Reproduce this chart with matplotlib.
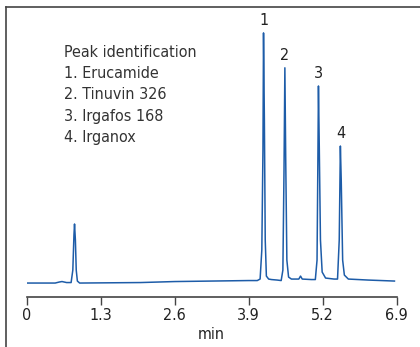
import matplotlib
matplotlib.use("Agg")
from matplotlib import pyplot as plt
from matplotlib.lines import Line2D

# chromatogram trace (time in min, signal in arbitrary units)
time_min = [0.00, 0.50, 0.57, 0.62, 0.70, 0.78, 0.81, 0.83, 0.84, 0.855, 0.87, 0.89, 0.93,
            2.00, 2.60, 3.90, 4.05, 4.10, 4.13, 4.15, 4.16, 4.175, 4.19, 4.21, 4.25, 4.30,
            4.40, 4.47, 4.50, 4.52, 4.535, 4.55, 4.57, 4.60, 4.65, 4.78, 4.81, 4.84, 5.00,
            5.07, 5.10, 5.115, 5.125, 5.14, 5.16, 5.19, 5.25, 5.40, 5.46, 5.49, 5.51, 5.525,
            5.55, 5.58, 5.65, 6.00, 6.46]
signal = [-0.4, -0.4, 0.0, 0.2, -0.2, -0.2, 4.8, 18.9, 23.3, 16.9, 4.8, 0.4, -0.4,
          -0.2, 0.2, 0.6, 0.6, 1.2, 12.9, 53.0, 100.0, 65.0, 16.9, 2.4, 1.2, 1.0,
          0.8, 0.6, 4.8, 45.0, 86.0, 49.0, 8.8, 2.0, 1.2, 1.2, 2.4, 1.2, 1.0,
          1.0, 8.8, 49.0, 78.7, 53.0, 16.9, 4.0, 1.6, 1.2, 1.2, 16.9, 54.6, 41.0,
          8.8, 2.8, 1.2, 0.8, 0.4]

peak_labels = ["1", "2", "3", "4"]
peak_times = [4.16, 4.535, 5.125, 5.51]
peak_heights = [100.0, 86.0, 78.7, 54.6]

legend_lines = ["Peak identification", "1. Erucamide", "2. Tinuvin 326",
                "3. Irgafos 168", "4. Irganox"]

tick_pos = [0, 1.3, 2.6, 3.9, 5.2, 6.5]
tick_labels = ["0", "1.3", "2.6", "3.9", "5.2", "6.9"]

plt.rcParams["font.family"] = ["DejaVu Sans"]
plt.rcParams["font.stretch"] = "condensed"
gray = "#444444"
blue = "#1d5ca8"

fig = plt.figure(figsize=(4.2, 3.47), dpi=100)
ax = fig.add_axes([0.0636, 0.1441, 0.881, 0.8357])
ax.plot(time_min, signal, color=blue, lw=1.1)

for lab, t, h in zip(peak_labels, peak_times, peak_heights):
    ax.text(t, h + 2.0, lab, ha="center", va="bottom", fontsize=11.5, color="#222222")

for i, line in enumerate(legend_lines):
    ax.text(0.65, 92 - i * 8.45, line, ha="left", va="center", fontsize=11.5, color="#333333")

ax.set_xlim(0, 6.5)
ax.set_ylim(-6.0, 110.4)
ax.set_xticks(tick_pos)
ax.set_xticklabels(tick_labels)
ax.set_yticks([])
ax.set_xlabel("min", fontsize=11.5, color="#222222", labelpad=3)
ax.tick_params(axis="x", length=6, width=1, color=gray, labelsize=11.5,
               labelcolor="#222222", pad=2)
for side in ["left", "right", "top"]:
    ax.spines[side].set_visible(False)
ax.spines["bottom"].set_color(gray)
ax.spines["bottom"].set_linewidth(1.2)
ax.patch.set_alpha(0)

# panel border (left and top edges)
fig.add_artist(Line2D([6 / 420, 6 / 420], [0, 1 - 7 / 347], color=gray, lw=1.2))
fig.add_artist(Line2D([6 / 420, 1], [1 - 7 / 347, 1 - 7 / 347], color=gray, lw=1.2))

fig.savefig("out.png", dpi=100)
